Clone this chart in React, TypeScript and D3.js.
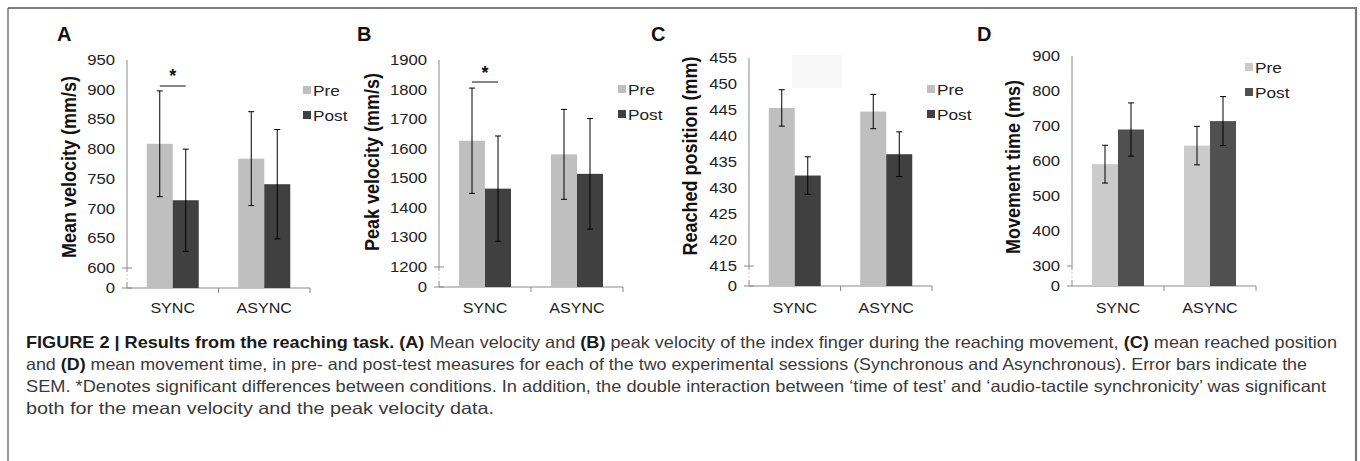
import React from 'react';
import * as d3 from 'd3';

const categories = ['SYNC', 'ASYNC'];
const seriesNames = ['Pre', 'Post'];

// (A) mean velocity, mm/s
const meanVelPre = [809, 784];
const meanVelPreErr = [89, 79];
const meanVelPost = [714, 741];
const meanVelPostErr = [86, 92];
const meanVelTicks = [600, 650, 700, 750, 800, 850, 900, 950];

// (B) peak velocity, mm/s
const peakVelPre = [1627, 1581];
const peakVelPreErr = [178, 152];
const peakVelPost = [1465, 1515];
const peakVelPostErr = [178, 187];
const peakVelTicks = [1200, 1300, 1400, 1500, 1600, 1700, 1800, 1900];

// (C) reached position, mm
const reachPre = [445.4, 444.7];
const reachPreErr = [3.5, 3.3];
const reachPost = [432.4, 436.5];
const reachPostErr = [3.6, 4.3];
const reachTicks = [415, 420, 425, 430, 435, 440, 445, 450, 455];

// (D) movement time, ms
const movePre = [591, 644];
const movePreErr = [54, 55];
const movePost = [690, 714];
const movePostErr = [76, 70];
const moveTicks = [300, 400, 500, 600, 700, 800, 900];

const captionLines = [
  [['FIGURE 2 | Results from the reaching task.', true], [' ', false], ['(A)', true], [' Mean velocity and ', false], ['(B)', true],
   [' peak velocity of the index finger during the reaching movement, ', false], ['(C)', true], [' mean reached position', false]],
  [['and ', false], ['(D)', true], [' mean movement time, in pre- and post-test measures for each of the two experimental sessions (Synchronous and Asynchronous). Error bars indicate the', false]],
  [['SEM. *Denotes significant differences between conditions. In addition, the double interaction between \u2018time of test\u2019 and \u2018audio-tactile synchronicity\u2019 was significant', false]],
  [['both for the mean velocity and the peak velocity data.', false]],
] as [string, boolean][][];
const captionWidths = [1311, 1281, 1300, 468];

const SX = 1.15; // the source figure is stretched horizontally
const FONT = 'Liberation Sans, Arial, sans-serif';

interface PanelProps {
  letter: string;
  letterX: number;
  title: string;
  titleX: number;
  titleY: number;
  pre: number[];
  preErr: number[];
  post: number[];
  postErr: number[];
  ticks: number[];
  axisX: number;
  endX: number;
  baseY: number;
  topY: number;
  legendX: number;
  legendY: number;
  preColor: string;
  postColor: string;
  sig?: { y: number; starY: number };
  sideTicks?: boolean;
}

function STxt({ x, y, children, anchor = 'start', size = 14, weight = 'normal', fill = '#222' }: any) {
  return (
    <text transform={`translate(${x},${y}) scale(${SX},1)`} textAnchor={anchor} fontSize={size}
      fontWeight={weight} fill={fill} fontFamily={FONT}>{children}</text>
  );
}

function Panel(p: PanelProps) {
  const t0 = p.ticks[0];
  const t1 = p.ticks[p.ticks.length - 1];
  const y = d3.scaleLinear().domain([t0, t1]).range([p.baseY - 20, p.topY]);
  const x0 = d3.scaleBand<string>().domain(categories).range([p.axisX, p.endX]);
  const groupW = 52;
  const x1 = d3.scaleBand<string>().domain(seriesNames).range([0, groupW]);
  const bw = x1.bandwidth();
  const vals = [p.pre, p.post];
  const errs = [p.preErr, p.postErr];
  const colors = [p.preColor, p.postColor];
  const axisColor = '#8a8a8a';
  const gapTop = y(t0) + 4;
  const gapBot = p.baseY - 6;
  const tk = 5;
  const tkR = p.sideTicks ? 0 : 5;

  return (
    <g>
      <text x={p.letterX} y={41} fontSize={20} fontWeight="bold" fontFamily={FONT} fill="#111">{p.letter}</text>
      <text transform={`translate(${p.titleX},${p.titleY}) scale(${SX},1) rotate(-90)`} textAnchor="middle"
        fontSize={18} fontWeight="bold" fontFamily={FONT} fill="#111" dominantBaseline="central">{p.title}</text>

      {/* y axis with break */}
      <line x1={p.axisX} x2={p.axisX} y1={p.topY} y2={gapTop} stroke={axisColor} />
      <line x1={p.axisX} x2={p.axisX} y1={gapTop + 2} y2={gapBot - 1} stroke="#cfcfcf" strokeDasharray="2,2" />
      <line x1={p.axisX} x2={p.axisX} y1={gapBot} y2={p.baseY} stroke={axisColor} />
      <line x1={p.axisX - tk} x2={p.axisX + tkR} y1={y(t0)} y2={y(t0)} stroke={axisColor} />
      <line x1={p.axisX - tk} x2={p.axisX + tkR} y1={p.baseY} y2={p.baseY} stroke={axisColor} />
      {p.ticks.map(t => (
        <STxt key={t} x={p.axisX - 12} y={y(t) + 5} anchor="end" size={14.5}>{t}</STxt>
      ))}
      <STxt x={p.axisX - 12} y={p.baseY + 5} anchor="end" size={14.5}>0</STxt>

      {/* x axis */}
      <line x1={p.axisX} x2={p.endX} y1={p.baseY} y2={p.baseY} stroke={axisColor} />
      {categories.map(c => (
        <line key={c} x1={(x0(c) ?? 0) + x0.bandwidth()} x2={(x0(c) ?? 0) + x0.bandwidth()}
          y1={p.baseY} y2={p.baseY + 5} stroke={axisColor} />
      ))}

      {categories.map((c, ci) => {
        const gx = (x0(c) ?? 0) + (x0.bandwidth() - groupW) / 2;
        return (
          <g key={c}>
            {seriesNames.map((s, si) => {
              const v = vals[si][ci];
              const e = errs[si][ci];
              const bx = gx + (x1(s) ?? 0);
              const cx = bx + bw / 2;
              return (
                <g key={s}>
                  <rect x={bx} y={y(v)} width={bw} height={p.baseY - y(v)} fill={colors[si]} />
                  <line x1={cx} x2={cx} y1={y(v + e)} y2={y(v - e)} stroke="#000" strokeWidth={1} />
                  <line x1={cx - 3} x2={cx + 3} y1={y(v + e)} y2={y(v + e)} stroke="#000" strokeWidth={1} />
                  <line x1={cx - 3} x2={cx + 3} y1={y(v - e)} y2={y(v - e)} stroke="#000" strokeWidth={1} />
                </g>
              );
            })}
            <STxt x={gx + groupW / 2} y={313} anchor="middle" size={14}>{c}</STxt>
          </g>
        );
      })}

      {p.sig && (() => {
        const gx = (x0(categories[0]) ?? 0) + (x0.bandwidth() - groupW) / 2;
        const a = gx + (x1('Pre') ?? 0) + bw / 2;
        const b = gx + (x1('Post') ?? 0) + bw / 2;
        return (
          <g>
            <line x1={a} x2={b} y1={p.sig.y} y2={p.sig.y} stroke="#111" strokeWidth={1} />
            <text x={(a + b) / 2} y={p.sig.starY} textAnchor="middle" fontSize={18} fontWeight="bold"
              fontFamily={FONT} fill="#111">*</text>
          </g>
        );
      })()}

      {seriesNames.map((s, si) => (
        <g key={s}>
          <rect x={p.legendX} y={p.legendY + si * 25 - 4} width={8} height={8} fill={colors[si]} />
          <STxt x={p.legendX + 10} y={p.legendY + si * 25 + 5.5} size={15}>{s}</STxt>
        </g>
      ))}
    </g>
  );
}

export default function App() {
  return (
    <div style={{ position: 'absolute', left: 0, top: 0 }}>
      <svg width={1360} height={461} style={{ display: 'block', background: '#fff' }}>
        {/* frame */}
        <line x1={8} x2={1356} y1={8} y2={8} stroke="#555" strokeWidth={1.5} />
        <line x1={8} x2={8} y1={8} y2={461} stroke="#555" strokeWidth={1.2} />
        <line x1={1356} x2={1356} y1={7} y2={461} stroke="#777" strokeWidth={2.2} />

        {/* faint artefact box in panel C */}
        <rect x={792} y={55} width={50} height={33} fill="#f8f8f8" />

        <Panel letter="A" letterX={57} title="Mean velocity (mm/s)" titleX={69} titleY={167}
          pre={meanVelPre} preErr={meanVelPreErr} post={meanVelPost} postErr={meanVelPostErr}
          ticks={meanVelTicks} axisX={127} endX={310} baseY={288} topY={60}
          legendX={303} legendY={90} preColor="#bfbfbf" postColor="#404040" sig={{ y: 86, starY: 82 }} />
        <Panel letter="B" letterX={357} title="Peak velocity (mm/s)" titleX={372} titleY={162}
          pre={peakVelPre} preErr={peakVelPreErr} post={peakVelPost} postErr={peakVelPostErr}
          ticks={peakVelTicks} axisX={439} endX={623} baseY={287} topY={60}
          legendX={618} legendY={89} preColor="#bfbfbf" postColor="#404040" sig={{ y: 82, starY: 79 }} />
        <Panel letter="C" letterX={651} title="Reached position (mm)" titleX={690} titleY={156}
          pre={reachPre} preErr={reachPreErr} post={reachPost} postErr={reachPostErr}
          ticks={reachTicks} axisX={749} endX={932} baseY={286} topY={58}
          legendX={927} legendY={89} preColor="#bfbfbf" postColor="#404040" />
        <Panel letter="D" letterX={977} title="Movement time (ms)" titleX={1013} titleY={167}
          pre={movePre} preErr={movePreErr} post={movePost} postErr={movePostErr}
          ticks={moveTicks} axisX={1072} endX={1256} baseY={286} topY={56}
          legendX={1245} legendY={67} preColor="#cbcbcb" postColor="#505050" sideTicks />

        {/* caption */}
        {captionLines.map((line, i) => (
          <text key={i} x={26} y={348 + i * 22} fontSize={16.5} fontFamily={FONT} fill="#3a3a3a"
            textLength={captionWidths[i]} lengthAdjust="spacingAndGlyphs">
            {line.map(([t, b], j) => (
              <tspan key={j} fontWeight={b ? 'bold' : 'normal'} fill={b ? '#1a1a1a' : '#3a3a3a'}>{t}</tspan>
            ))}
          </text>
        ))}
      </svg>
    </div>
  );
}
